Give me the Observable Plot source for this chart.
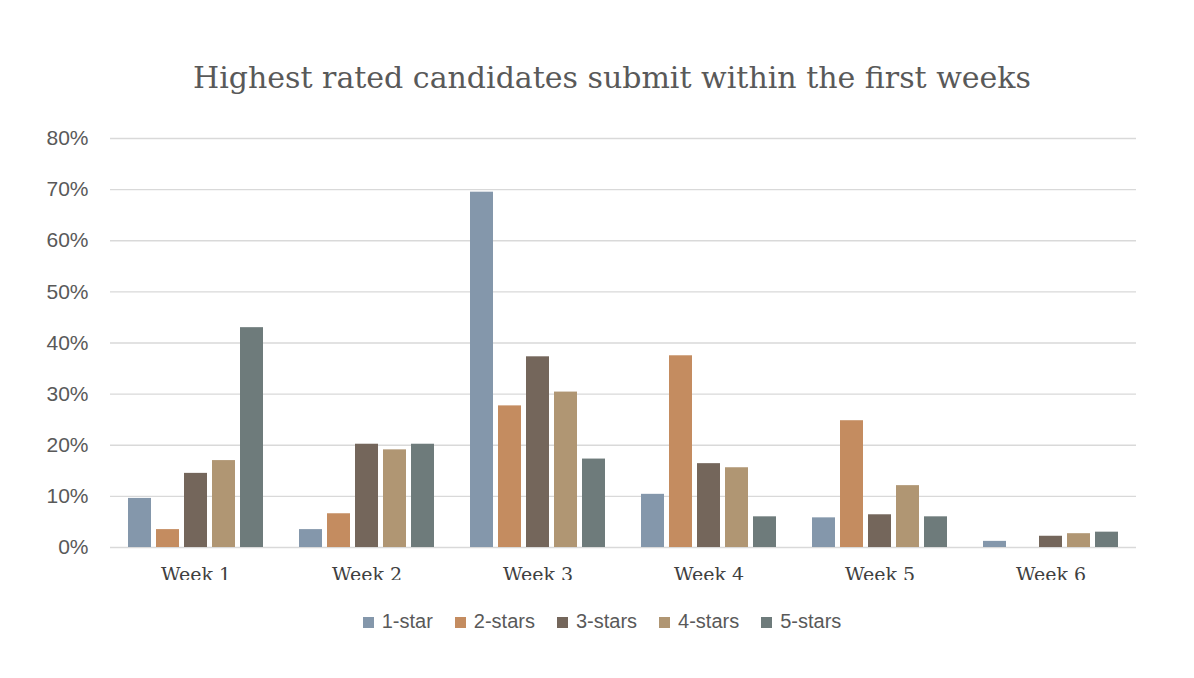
<!DOCTYPE html>
<html><head><meta charset="utf-8">
<script src="https://cdn.jsdelivr.net/npm/d3@7"></script>
<script src="https://cdn.jsdelivr.net/npm/@observablehq/plot@0.6"></script>
<style>
body{margin:0;background:#fff;width:1194px;}
#title{height:110px;box-sizing:border-box;padding-top:60px;text-align:center;font-family:"DejaVu Serif","Liberation Serif",serif;font-size:30px;color:#595959;padding-left:30px}
#legend{display:flex;justify-content:center;gap:22px;font-family:"Liberation Sans",Arial,sans-serif;font-size:20px;color:#595959;margin-top:30px;padding-left:10px}
#legend span.sw{display:inline-block;width:11px;height:11px;margin-right:8px}
</style></head><body>
<div id="title">Highest rated candidates submit within the first weeks</div>
<div id="chart"></div>
<div id="legend"></div>
<script>
const weeks = ["Week 1","Week 2","Week 3","Week 4","Week 5","Week 6"];
const series = ["1-star","2-stars","3-stars","4-stars","5-stars"];
const colors = ["#8497ab","#c48c60","#74665b","#b09673","#6e7b7b"];
const star1 = [9.6, 3.5, 69.5, 10.4, 5.8, 1.2];
const star2 = [3.5, 6.6, 27.7, 37.5, 24.8, 0];
const star3 = [14.5, 20.2, 37.3, 16.4, 6.4, 2.2];
const star4 = [17.0, 19.1, 30.4, 15.6, 12.1, 2.7];
const star5 = [43.0, 20.2, 17.3, 6.0, 6.0, 3.0];
const yTicks = [0,10,20,30,40,50,60,70,80];
const vals = [star1,star2,star3,star4,star5];
const data = [];
weeks.forEach((w,i)=>series.forEach((s,j)=>data.push({week:w,series:s,value:vals[j][i]})));
const chart = Plot.plot({
  width:1194, height:470,
  marginLeft:110, marginRight:58, marginTop:28, marginBottom:33,
  style:{fontFamily:"Liberation Sans, Arial, sans-serif", color:"#595959"},
  fx:{domain:weeks, padding:0, label:null},
  x:{domain:series, paddingInner:0.17, paddingOuter:0.56, axis:null},
  y:{domain:[0,80], axis:null},
  color:{domain:series, range:colors},
  marks:[
    Plot.ruleY(yTicks,{y:d=>d, stroke:"#d9d9d9", strokeWidth:1.3}),
    Plot.barY(data,{fx:"week", x:"series", y:"value", fill:"series"}),
    Plot.axisFx({anchor:"bottom", tickSize:0, tickPadding:20, fontSize:19, fontFamily:"DejaVu Serif, Liberation Serif, serif", fill:"#404040", label:null}),
    Plot.axisY({ticks:yTicks, tickFormat:d=>d+"%", tickSize:0, tickPadding:22, fontSize:21, fill:"#595959", label:null})
  ]
});
document.getElementById("chart").append(chart);
const lg=document.getElementById("legend");
series.forEach((s,i)=>{const d=document.createElement("div");d.innerHTML=`<span class="sw" style="background:${colors[i]}"></span>${s}`;lg.append(d);});
</script>
</body></html>
